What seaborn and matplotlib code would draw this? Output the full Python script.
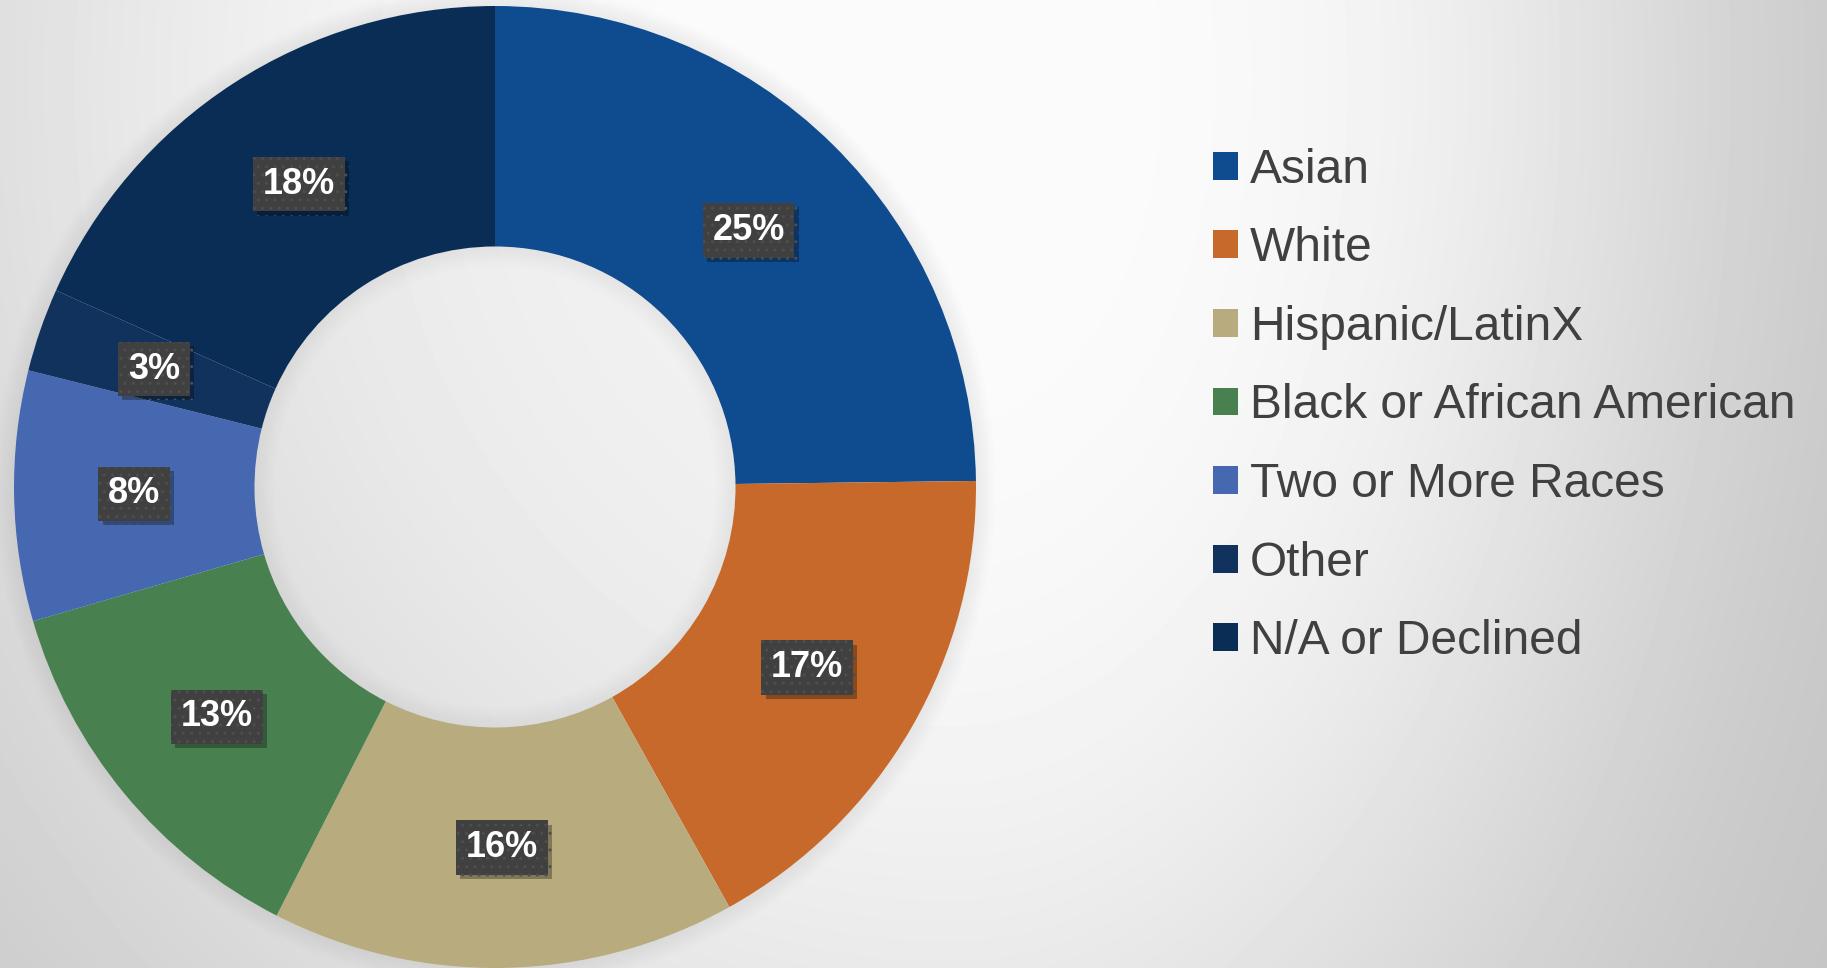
import numpy as np
import pandas as pd
import seaborn as sns
import matplotlib.pyplot as plt
import matplotlib.patheffects as pe
from matplotlib.patches import Wedge, Circle

# data (share of respondents, %)
groups = ["Asian", "White", "Hispanic/LatinX", "Black or African American",
          "Two or More Races", "Other", "N/A or Declined"]
shares = [24.8, 17.1, 15.6, 13.0, 8.4, 2.8, 18.3]
palette = ["#0E4B8F", "#C7692A", "#B8AB7E", "#48814F", "#4568B0", "#11325C", "#0A2D56"]

df = pd.DataFrame({"group": groups, "share": shares})

sns.set_theme(style="white")
plt.rcParams['font.family'] = ['Liberation Sans', 'DejaVu Sans']

fig = plt.figure(figsize=(18.27, 9.68), dpi=100)

# soft grey background, lightest near the top middle, darker to the right
bg = fig.add_axes([0, 0, 1, 1], zorder=0)
W, H = 1827, 968
xx, yy = np.meshgrid(np.arange(W), np.arange(H))
sx = np.where(xx < 950, 1150.0, 800.0)
r2 = ((xx - 950.0) / sx) ** 2 + ((yy - 80.0) / 1300.0) ** 2
shade = 251 - 58 * (1 - np.exp(-1.2 * r2 ** 1.6))
bg.imshow(shade, cmap="gray", vmin=0, vmax=255, aspect="auto", interpolation="bilinear")
bg.set_axis_off()

# donut
R = 481
ax = fig.add_axes([(495 - R) / W, (H - 487 - R) / H, 2 * R / W, 2 * R / H], zorder=1)
ax.set_facecolor("none")

# glow around the ring and shading inside the hole
ax.add_patch(Circle((0, 0), 0.5, facecolor="black", alpha=0.035, lw=0, zorder=2))
for k in range(14):
    a = 0.06 * (1 - k / 14)
    ax.add_patch(Wedge((0, 0), 1 + 0.003 * (k + 1), 0, 360, width=0.003,
                       facecolor="black", alpha=a, lw=0, clip_on=False, zorder=0))
    ax.add_patch(Wedge((0, 0), 0.5 - 0.003 * k, 0, 360, width=0.003,
                       facecolor="black", alpha=a * 0.8, lw=0, clip_on=False, zorder=3))

wedges, _ = ax.pie(df["share"], colors=palette, startangle=90, counterclock=False,
                   radius=1, wedgeprops=dict(width=0.5, edgecolor="none"))
ax.set_xlim(-1, 1)
ax.set_ylim(-1, 1)
ax.set_aspect("equal")
ax.set_axis_off()

for w, v in zip(wedges, df["share"]):
    ang = np.deg2rad((w.theta1 + w.theta2) / 2)
    t = ax.text(0.75 * np.cos(ang), 0.75 * np.sin(ang), f"{round(v)}%",
                ha="center", va="center", color="white", fontsize=26,
                fontweight="bold", zorder=5,
                bbox=dict(boxstyle="square,pad=0.27", facecolor="#404040",
                          edgecolor="#4e4e4e", linewidth=0, hatch=".."))
    t.get_bbox_patch().set_path_effects([
        pe.withSimplePatchShadow(offset=(3, -3), shadow_rgbFace="black", alpha=0.3),
        pe.Normal()])

fig.legend(wedges, df["group"], loc="center left",
           bbox_to_anchor=(1213 / W, 1 - 406 / H), frameon=False,
           fontsize=34.5, labelcolor="#404040", borderpad=0, borderaxespad=0,
           handlelength=0.52, handleheight=0.52, handletextpad=0.25,
           labelspacing=0.70)

fig.savefig("out.png", dpi=100)
